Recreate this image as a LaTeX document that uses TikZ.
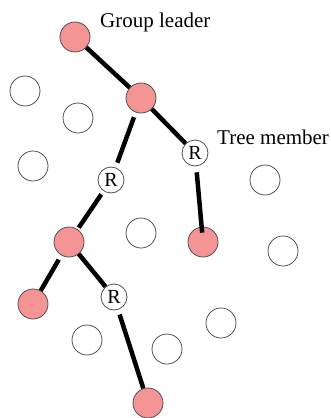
\documentclass[tikz,border=0pt]{standalone}
\usepackage{fontspec}
\setmainfont{Liberation Serif}
\definecolor{pinkfill}{RGB}{245,148,148}
\definecolor{rim}{RGB}{80,80,80}
\begin{document}
\begin{tikzpicture}[x=1pt,y=-1pt,
  pinknode/.style={circle,draw=rim,line width=0.8pt,fill=pinkfill,minimum size=30pt,inner sep=0pt},
  emptynode/.style={circle,draw=rim,line width=0.8pt,fill=white,minimum size=30pt,inner sep=0pt},
  rnode/.style={circle,draw=rim,line width=0.8pt,fill=white,minimum size=26pt,inner sep=0pt,font=\fontsize{20}{20}\selectfont},
  lbl/.style={inner sep=0pt,font=\fontsize{21}{21}\selectfont,anchor=base west},
  edge/.style={line width=4.5pt}]
\useasboundingbox (0,0) rectangle (330,418);
% tree nodes
\node[pinknode] (L) at (75,37) {};
\node[pinknode] (A) at (141,98) {};
\node[rnode] (R1) at (111,180) {R};
\node[rnode] (R2) at (195,153) {R};
\node[pinknode] (P3) at (203,242) {};
\node[pinknode] (P1) at (69,242) {};
\node[pinknode] (P2) at (33,304) {};
\node[rnode] (R3) at (114,297) {R};
\node[pinknode] (P4) at (148,403) {};
% other nodes
\node[emptynode] (e1) at (25,91) {};
\node[emptynode] (e2) at (78,118) {};
\node[emptynode] (e3) at (33,166) {};
\node[emptynode] (e4) at (265,180) {};
\node[emptynode] (e5) at (141,233) {};
\node[emptynode] (e6) at (283,251) {};
\node[emptynode] (e7) at (87,340) {};
\node[emptynode] (e8) at (167,349) {};
\node[emptynode] (e9) at (221,323) {};
% edges
\draw[edge] (L) -- (A);
\draw[edge,shorten <=5pt,shorten >=5pt] (A) -- (R1);
\draw[edge] (A) -- (R2);
\draw[edge,shorten <=6pt,shorten >=-6pt] (R2) -- (P3);
\draw[edge,shorten <=4pt,shorten >=2pt] (R1) -- (P1);
\draw[edge,shorten <=5pt] (P1) -- (P2);
\draw[edge] (P1) -- (R3);
\draw[edge,shorten <=5pt] (R3) -- (P4);
% labels
\node[lbl] (gl) at (100,27) {Group leader};
\node[lbl] (tm) at (217,144) {Tree member};
\end{tikzpicture}
\end{document}
